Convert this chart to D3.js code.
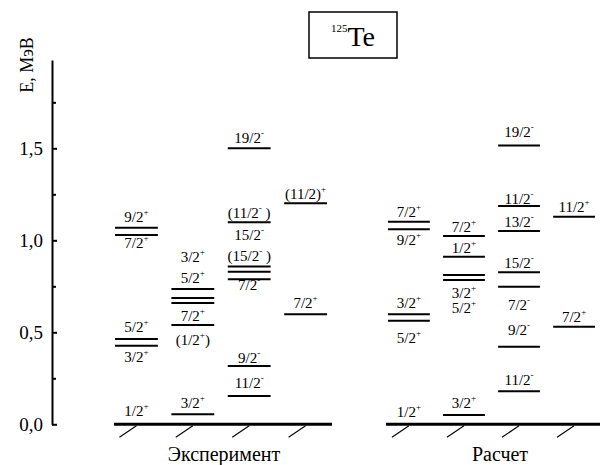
<!DOCTYPE html>
<html><head><meta charset="utf-8">
<script src="https://cdn.jsdelivr.net/npm/d3@7"></script>
</head><body style="margin:0;background:#fff">
<svg id="chart" width="600" height="465" font-family="Liberation Serif" style="display:block"></svg>
<script>
// ---- data ----
const groupNames = ["Эксперимент", "Расчет"];
const yTicks = [0, 0.5, 1.0, 1.5];
const yMinorTicks = [0.25, 0.75, 1.25, 1.75];
const yTickLabels = ["0,0", "0,5", "1,0", "1,5"];
const yAxisTitle = "E, МэВ";
const nucleusMass = "125";
const nucleusSymbol = "Te";

// levels: [column, energy (MeV)]
const expLevels = [
  [0, 0], [0, 0.427], [0, 0.463], [0, 1.029], [0, 1.068],
  [1, 0.054], [1, 0.540], [1, 0.659], [1, 0.686], [1, 0.735],
  [2, 0.154], [2, 0.317], [2, 0.788], [2, 0.829], [2, 0.857], [2, 1.098], [2, 1.500],
  [3, 0.598], [3, 1.201]
];
const calcLevels = [
  [0, 0], [0, 0.563], [0, 0.598], [0, 1.060], [0, 1.101],
  [1, 0.051], [1, 0.784], [1, 0.812], [1, 0.911], [1, 1.023],
  [2, 0.179], [2, 0.422], [2, 0.748], [2, 0.826], [2, 1.051], [2, 1.186], [2, 1.515],
  [3, 0.530], [3, 1.128]
];
// labels: [column, energy of text baseline, spin, parity, tail]
const expLabels = [
  [0, 0.045, "1/2", "+", ""], [0, 0.339, "3/2", "+", ""], [0, 0.503, "5/2", "+", ""],
  [0, 0.958, "7/2", "+", ""], [0, 1.101, "9/2", "+", ""],
  [1, 0.086, "3/2", "+", ""], [1, 0.431, "(1/2", "+", ")"], [1, 0.559, "7/2", "+", ""],
  [1, 0.767, "5/2", "+", ""], [1, 0.884, "3/2", "+", ""],
  [2, 0.197, "11/2", "-", ""], [2, 0.335, "9/2", "-", ""], [2, 0.729, "7/2", "-", ""],
  [2, 0.889, "(15/2", "-", " )"], [2, 1.002, "15/2", "-", ""], [2, 1.120, "(11/2", "-", " )"],
  [2, 1.527, "19/2", "-", ""],
  [3, 0.632, "7/2", "+", ""], [3, 1.224, "(11/2)", "+", ""]
];
const calcLabels = [
  [0, 0.041, "1/2", "+", ""], [0, 0.443, "5/2", "+", ""], [0, 0.632, "3/2", "+", ""],
  [0, 0.974, "9/2", "+", ""], [0, 1.128, "7/2", "+", ""],
  [1, 0.087, "3/2", "+", ""], [1, 0.603, "5/2", "+", ""], [1, 0.685, "3/2", "+", ""],
  [1, 0.929, "1/2", "+", ""], [1, 1.047, "7/2", "+", ""],
  [2, 0.214, "11/2", "-", ""], [2, 0.485, "9/2", "-", ""], [2, 0.621, "7/2", "-", ""],
  [2, 0.848, "15/2", "-", ""], [2, 1.074, "13/2", "-", ""], [2, 1.200, "11/2", "-", ""],
  [2, 1.560, "19/2", "-", ""],
  [3, 0.558, "7/2", "+", ""], [3, 1.155, "11/2", "+", ""]
];
const columns = [0, 1, 2, 3];

// ---- drawing ----
const FONT = "Liberation Serif";
const svg = d3.select("#chart");
const y = d3.scaleLinear().domain([0, 1.98]).range([424.3, 60]);

const groups = [
  { name: groupNames[0], levels: expLevels, labels: expLabels,
    x: d3.scaleBand().domain(columns).range([115, 327]).paddingInner(0.24),
    base: [114, 332], titleX: 224 },
  { name: groupNames[1], levels: calcLevels, labels: calcLabels,
    x: d3.scaleBand().domain(columns).range([388, 595]).paddingInner(0.24),
    base: [386, 600], titleX: 500 }
];

// y axis (line + ticks via d3 axis, labels as plain texts from the same scale)
const axis = svg.append("g").attr("transform", "translate(52,0)")
  .call(d3.axisLeft(y).tickValues(yTicks).tickSizeInner(-5).tickSizeOuter(0).tickFormat(""));
axis.attr("font-family", FONT);
axis.select(".domain").attr("stroke-width", 2);
axis.selectAll(".tick line").attr("stroke-width", 2);
const minor = svg.append("g").attr("transform", "translate(52,0)")
  .call(d3.axisLeft(y).tickValues(yMinorTicks).tickSizeInner(-4).tickSizeOuter(0).tickFormat(""));
minor.attr("font-family", FONT);
minor.select(".domain").remove();
minor.selectAll(".tick line").attr("stroke-width", 2);
svg.append("g").selectAll("text").data(yTicks).join("text")
  .attr("x", 43).attr("y", d => y(d)).attr("dy", "0.35em")
  .attr("text-anchor", "end").attr("font-size", 19).attr("font-family", FONT)
  .text((d, i) => yTickLabels[i]);

svg.append("text")
  .attr("transform", `translate(33,${(43 + 87) / 2}) rotate(-90)`)
  .attr("text-anchor", "middle").attr("font-size", 18).attr("font-family", FONT)
  .text(yAxisTitle);

// groups
groups.forEach(g => {
  const G = svg.append("g").attr("font-family", FONT);
  G.append("line").attr("x1", g.base[0]).attr("x2", g.base[1])
    .attr("y1", y(0)).attr("y2", y(0)).attr("stroke", "#000").attr("stroke-width", 3);
  G.selectAll("line.hatch").data(columns).join("line").attr("class", "hatch")
    .attr("x1", c => g.x(c) + g.x.bandwidth() / 2).attr("y1", y(0) + 1.5)
    .attr("x2", c => g.x(c) + g.x.bandwidth() / 2 - 17).attr("y2", y(0) + 13)
    .attr("stroke", "#000").attr("stroke-width", 1.1);
  G.selectAll("line.lev").data(g.levels.filter(d => d[1] > 0)).join("line").attr("class", "lev")
    .attr("x1", d => g.x(d[0])).attr("x2", d => g.x(d[0]) + g.x.bandwidth())
    .attr("y1", d => y(d[1])).attr("y2", d => y(d[1]))
    .attr("stroke", "#000").attr("stroke-width", 2);
  const t = G.selectAll("text.lab").data(g.labels).join("text").attr("class", "lab")
    .attr("x", d => g.x(d[0]) + g.x.bandwidth() / 2)
    .attr("y", d => y(d[1]))
    .attr("text-anchor", "middle").attr("font-size", 15).attr("font-family", FONT);
  t.append("tspan").text(d => d[2]);
  t.append("tspan").attr("font-size", 9).attr("dy", -7).text(d => d[3]);
  t.append("tspan").attr("dy", 7).text(d => d[4]);
  G.append("text").attr("x", g.titleX).attr("y", 461).attr("text-anchor", "middle")
    .attr("font-size", 20).attr("font-family", FONT).text(g.name);
});

// nucleus title box
svg.append("rect").attr("x", 309).attr("y", 12).attr("width", 88).attr("height", 46)
  .attr("fill", "none").attr("stroke", "#000").attr("stroke-width", 1.5);
const tt = svg.append("text").attr("x", 353).attr("y", 46).attr("text-anchor", "middle")
  .attr("font-family", FONT);
tt.append("tspan").attr("font-size", 11).attr("dy", -14).text(nucleusMass);
tt.append("tspan").attr("font-size", 28).attr("dy", 14).text(nucleusSymbol);
</script>
</body></html>
